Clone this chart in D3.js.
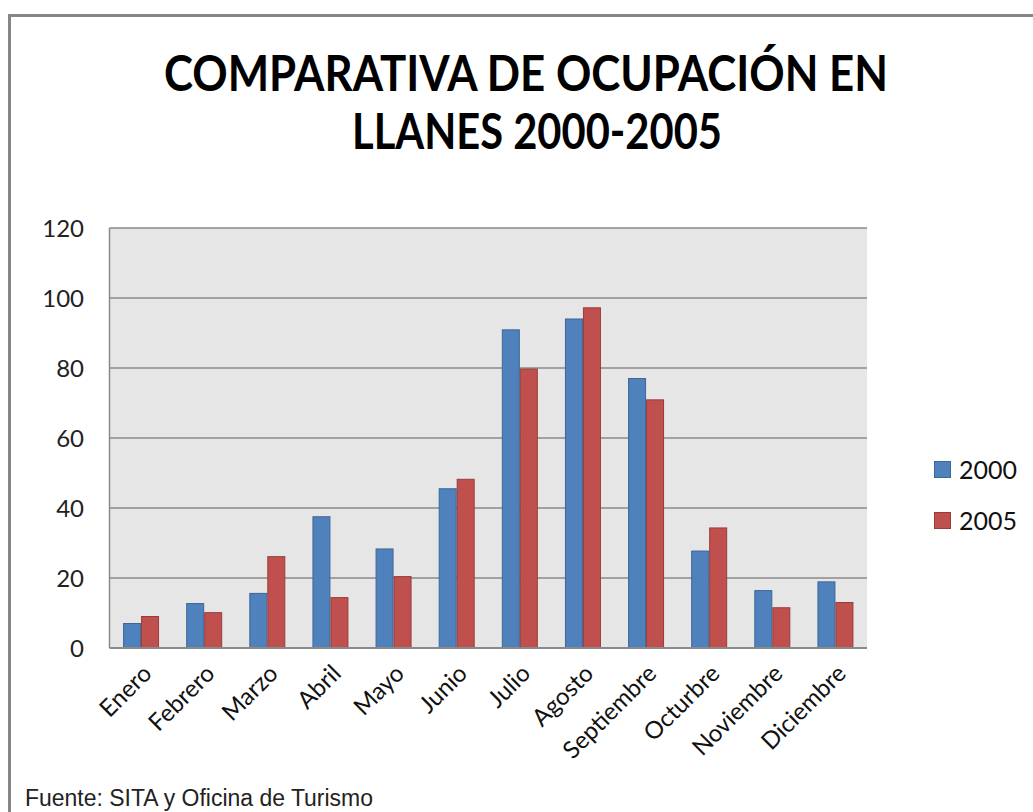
<!DOCTYPE html>
<html>
<head>
<meta charset="utf-8">
<script src="https://cdn.jsdelivr.net/npm/d3@7"></script>
<style>
html,body{margin:0;padding:0;background:#fff;}
svg{display:block;}
</style>
</head>
<body>
<svg id="chart" width="1033" height="812"></svg>
<script>
const months = ["Enero","Febrero","Marzo","Abril","Mayo","Junio","Julio","Agosto","Septiembre","Octurbre","Noviembre","Diciembre"];
const series = ["2000","2005"];
const values2000 = [7, 12.7, 15.6, 37.5, 28.3, 45.5, 90.9, 94, 77, 27.7, 16.4, 18.9];
const values2005 = [9, 10.1, 26.1, 14.4, 20.4, 48.2, 79.7, 97.2, 70.9, 34.3, 11.5, 13];
const yTicks = [0, 20, 40, 60, 80, 100, 120];
const titleLines = ["COMPARATIVA DE OCUPACIÓN EN", "LLANES 2000-2005"];
const source = "Fuente: SITA y Oficina de Turismo";

const colors = {"2000": "#4f81bd", "2005": "#c0504d"};
const strokes = {"2000": "#3c6796", "2005": "#963d3a"};

const svg = d3.select("#chart");

// outer chart border
svg.append("path")
  .attr("d", "M9.5,1000 L9.5,15.5 L1040,15.5")
  .attr("fill", "none").attr("stroke", "#868686").attr("stroke-width", 3);

const plot = {left: 109.5, right: 867, top: 228, bottom: 648};

const y = d3.scaleLinear().domain([0, 120]).range([plot.bottom, plot.top]);
const x0 = d3.scaleBand().domain(months).range([plot.left, plot.right])
  .paddingInner(0.43).paddingOuter(0.215);
const x1 = d3.scaleBand().domain(series).range([0, x0.bandwidth()]);

// plot background
svg.append("rect")
  .attr("x", plot.left).attr("y", plot.top)
  .attr("width", plot.right - plot.left).attr("height", plot.bottom - plot.top)
  .attr("fill", "#e6e6e6");

// gridlines
svg.append("g").selectAll("line").data(yTicks.filter(d => d > 0)).join("line")
  .attr("x1", plot.left).attr("x2", plot.right)
  .attr("y1", d => y(d)).attr("y2", d => y(d))
  .attr("stroke", "#8a8a8a").attr("stroke-width", 1.5);

// bars
const data = months.map((m, i) => ({m, vals: [{s: "2000", v: values2000[i]}, {s: "2005", v: values2005[i]}]}));
const g = svg.append("g");
g.selectAll("g").data(data).join("g")
  .attr("transform", d => `translate(${x0(d.m)},0)`)
  .selectAll("rect").data(d => d.vals).join("rect")
  .attr("x", d => x1(d.s) + 0.5)
  .attr("width", x1.bandwidth() - 1)
  .attr("y", d => y(d.v))
  .attr("height", d => y(0) - y(d.v))
  .attr("fill", d => colors[d.s])
  .attr("stroke", d => strokes[d.s]).attr("stroke-width", 1);

// axes lines
svg.append("line").attr("x1", plot.left).attr("x2", plot.left)
  .attr("y1", plot.top).attr("y2", plot.bottom)
  .attr("stroke", "#8a8a8a").attr("stroke-width", 1.5);
svg.append("line").attr("x1", plot.left).attr("x2", plot.right)
  .attr("y1", plot.bottom).attr("y2", plot.bottom)
  .attr("stroke", "#8a8a8a").attr("stroke-width", 2);

// y axis labels
const yAxis = d3.axisLeft(y).tickValues(yTicks).tickSize(0).tickPadding(0);
const ya = svg.append("g").attr("transform", `translate(84,0)`).call(yAxis);
ya.select(".domain").remove();
ya.selectAll("text").attr("font-family", "Lato, sans-serif").attr("font-size", 24)
  .attr("fill", "#222").attr("dy", "0.36em");

// x axis labels
const xAxis = d3.axisBottom(x0).tickSize(0).tickPadding(0);
const xa = svg.append("g").attr("transform", `translate(0,${plot.bottom})`).call(xAxis);
xa.select(".domain").remove();
xa.selectAll("text")
  .attr("font-family", "Lato, sans-serif").attr("font-size", 24).attr("fill", "#111")
  .attr("text-anchor", "end").attr("y", 0).attr("dy", 0)
  .attr("transform", "translate(12,27) rotate(-45)");

// title
const title = svg.append("g");
const tpos = [{x: 526, y: 91, w: 724}, {x: 537, y: 149, w: 370}];
titleLines.forEach((t, i) => {
  title.append("text").text(t)
    .attr("x", tpos[i].x).attr("y", tpos[i].y)
    .attr("text-anchor", "middle")
    .attr("font-family", "Lato, sans-serif").attr("font-weight", "bold")
    .attr("font-size", 50).attr("fill", "#000")
    .attr("textLength", tpos[i].w).attr("lengthAdjust", "spacingAndGlyphs");
});

// legend
const legend = svg.append("g");
series.forEach((s, i) => {
  const ly = 461 + i * 51;
  legend.append("rect").attr("x", 934.5).attr("y", ly + 0.5).attr("width", 16).attr("height", 16)
    .attr("fill", colors[s]).attr("stroke", strokes[s]).attr("stroke-width", 1);
  legend.append("text").text(s).attr("x", 959).attr("y", ly + 8.5).attr("dy", "0.36em")
    .attr("font-family", "Lato, sans-serif").attr("font-size", 25).attr("fill", "#111");
});

// source
svg.append("text").text(source).attr("x", 25).attr("y", 806)
  .attr("font-family", "Liberation Sans, Arial, sans-serif").attr("font-size", 23)
  .attr("fill", "#222").attr("textLength", 348).attr("lengthAdjust", "spacingAndGlyphs");
</script>
</body>
</html>
